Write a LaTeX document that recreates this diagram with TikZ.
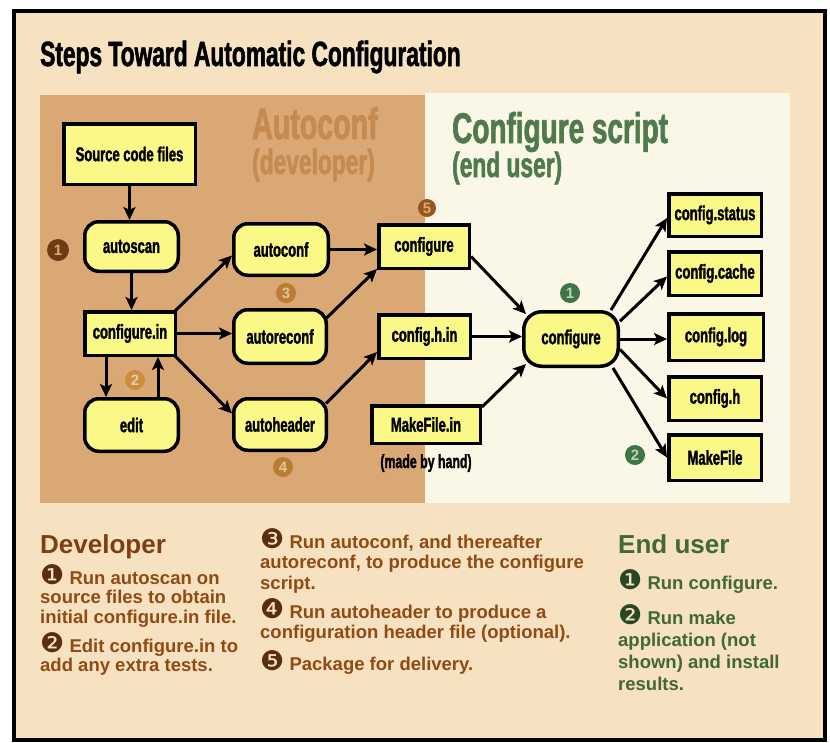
\documentclass[tikz,border=0pt]{standalone}
\usepackage{fontspec}
\setmainfont{Liberation Sans}
\newfontfamily\condf{Liberation Sans}[UprightFont={* Bold}, FakeStretch=0.65, FakeBold=1.5]
\newfontfamily\dingf{DejaVu Sans}
\usetikzlibrary{arrows.meta,calc}
\definecolor{pagebg}{RGB}{246,226,192}
\definecolor{tanbg}{RGB}{217,168,117}
\definecolor{creambg}{RGB}{250,247,230}
\definecolor{boxy}{RGB}{250,248,135}
\definecolor{autoc}{RGB}{196,138,80}
\definecolor{greenh}{RGB}{78,122,78}
\definecolor{devtext}{RGB}{145,74,20}
\definecolor{devhead}{RGB}{125,62,18}
\definecolor{devnum}{RGB}{90,45,14}
\definecolor{usertext}{RGB}{66,104,52}
\definecolor{usernum}{RGB}{40,72,36}
\definecolor{numA}{RGB}{110,60,20}
\definecolor{numB}{RGB}{205,140,62}
\definecolor{numC}{RGB}{188,124,52}
\definecolor{numE}{RGB}{150,86,30}
\definecolor{numG}{RGB}{62,116,72}
\begin{document}
\begin{tikzpicture}[x=1pt,y=-1pt,
  box/.style={draw, line width=3.5pt, fill=boxy, inner sep=0pt, align=center,
    font=\condf\fontsize{20}{20}\selectfont},
  rbox/.style={box, rounded corners=14pt},
  arr/.style={line width=3pt, -{Stealth[length=13pt,width=12pt,inset=3pt]}},
  num/.style={circle, inner sep=0pt, minimum size=20pt,
    font=\bfseries\fontsize{15}{15}\selectfont},
  heading/.style={anchor=base west, inner sep=0pt, font=\condf},
  para/.style={anchor=base west, inner sep=0pt, align=left}]
\useasboundingbox (0,0) rectangle (830,742);
\fill[white] (0,0) rectangle (830,742);
\fill[pagebg] (14,10) rectangle (825,740);
\fill[tanbg] (40,95) rectangle (425,503);
\fill[creambg] (425,93) rectangle (790,503);
\draw[line width=4pt] (14,10.5) rectangle (825,740);

% title and panel headings
\node[heading, font=\condf\fontsize{35}{35}\selectfont] (title) at (40,66) {Steps Toward Automatic Configuration};
\node[heading, text=autoc, font=\condf\fontsize{44}{44}\selectfont] (hauto) at (252,139) {Autoconf};
\node[heading, text=autoc, font=\condf\fontsize{35}{35}\selectfont] (hdev) at (252,174) {(developer)};
\node[heading, text=greenh, font=\condf\fontsize{43}{43}\selectfont] (hconf) at (452,143) {Configure script};
\node[heading, text=greenh, font=\condf\fontsize{35}{35}\selectfont] (huser) at (452,177) {(end user)};

% developer nodes
\node[box, minimum width=131.5pt, minimum height=60.5pt] (src) at (129.5,154) {Source code files};
\node[rbox, minimum width=93.5pt, minimum height=49.5pt] (autoscan) at (131.5,246.5) {autoscan};
\node[box, minimum width=90.5pt, minimum height=43.5pt] (confin) at (130,333.5) {configure.in};
\node[rbox, minimum width=93.5pt, minimum height=52.5pt] (edit) at (131.5,425) {edit};
\node[rbox, minimum width=94.5pt, minimum height=51.5pt] (autoconf) at (281,249.5) {autoconf};
\node[rbox, minimum width=92.5pt, minimum height=53.5pt] (autoreconf) at (280,336.5) {autoreconf};
\node[rbox, minimum width=92.5pt, minimum height=51.5pt] (autoheader) at (280,424.5) {autoheader};
\node[box, minimum width=90.5pt, minimum height=43.5pt] (conf) at (424,246.5) {configure};
\node[box, minimum width=91.5pt, minimum height=43.5pt] (confhin) at (424.5,336.5) {config.h.in};
\node[box, minimum width=108.5pt, minimum height=37.5pt] (mkin) at (426,424.5) {MakeFile.in};
\node[anchor=base, inner sep=0pt, font=\condf\fontsize{19}{19}\selectfont] (hand) at (426,468) {(made by hand)};

% end user nodes
\node[box, rounded corners=18pt, minimum width=94.5pt, minimum height=54.5pt] (cfg) at (571,339) {configure};
\node[box, minimum width=92.5pt, minimum height=42.5pt] (status) at (715,215) {config.status};
\node[box, minimum width=92.5pt, minimum height=43.5pt] (cache) at (715,273.5) {config.cache};
\node[box, minimum width=94.5pt, minimum height=46.5pt] (log) at (716,337) {config.log};
\node[box, minimum width=92.5pt, minimum height=43.5pt] (cfgh) at (715,398.5) {config.h};
\node[box, minimum width=92.5pt, minimum height=45.5pt] (mkf) at (715,457.5) {MakeFile};

% connectors
\draw[arr] (src.south) -- (src.south |- autoscan.north);
\draw[arr] (autoscan.south) -- (autoscan.south |- confin.north);
\draw[arr] ([xshift=-24pt]confin.south) -- ([xshift=-24pt]confin.south |- edit.north);
\draw[arr] ([xshift=28pt]confin.south |- edit.north) -- ([xshift=28pt]confin.south);
\draw[arr] ([xshift=-2pt,yshift=-1pt]confin.north east) -- ([yshift=-6pt]autoconf.west);
\draw[arr] (confin.east) -- (confin.east -| autoreconf.west);
\draw[arr] ([xshift=-2pt,yshift=1pt]confin.south east) -- ([yshift=11pt]autoheader.west);
\draw[arr] (autoconf.east) -- (autoconf.east -| conf.west);
\draw[arr] ([xshift=-2pt,yshift=18pt]autoreconf.east) -- ([yshift=1pt]conf.south west);
\draw[arr] ([xshift=-2pt,yshift=21pt]autoheader.east) -- ([yshift=8pt]confhin.south west);
\draw[arr] ([yshift=-10pt]conf.east) -- ([xshift=4pt,yshift=-4pt]cfg.north west);
\draw[arr] (confhin.east) -- (confhin.east -| cfg.west);
\draw[arr] ([yshift=-3pt]mkin.north east) -- ([xshift=4pt,yshift=4pt]cfg.south west);
\draw[arr] ([xshift=-9pt]cfg.north east) -- ([yshift=-3pt]status.west);
\draw[arr] (cfg.20) -- ([yshift=-3pt]cache.west);
\draw[arr] (cfg.east) -- (cfg.east -| log.west);
\draw[arr] (cfg.-12) -- (cfgh.west);
\draw[arr] ([xshift=-7pt]cfg.south east) -- (mkf.west);

% step markers
\node[num, fill=numA, text=tanbg, minimum size=22pt] (m1) at (58,250) {1};
\node[num, fill=numB, text=tanbg!60!white] (m2) at (135,380) {2};
\node[num, fill=numC, text=tanbg!70!white] (m3) at (286,293) {3};
\node[num, fill=numC, text=tanbg!70!white] (m4) at (283,467) {4};
\node[num, fill=numE, text=tanbg, minimum size=18pt] (m5) at (427,208) {5};
\node[num, fill=numG, text=creambg!70!numG] (g1) at (570,293) {1};
\node[num, fill=numG, text=creambg!70!numG] (g2) at (635,455) {2};

% explanations (anchor = baseline of the last line)
\newcommand{\dg}[2]{{\color{#1}\dingf\mdseries\fontsize{27}{20}\selectfont #2}}
\node[heading, text=devhead, font=\bfseries\fontsize{26}{26}\selectfont] (hdevb) at (40,553) {Developer};
\node[para, text=devtext, font=\bfseries\fontsize{18.5}{19.5}\selectfont] (d1) at (40,623)
  {\dg{devnum}{❶} Run autoscan on\\source files to obtain\\initial configure.in file.};
\node[para, text=devtext, font=\bfseries\fontsize{18.5}{19.5}\selectfont] (d2) at (40,671.5)
  {\dg{devnum}{❷} Edit configure.in to\\add any extra tests.};
\node[para, text=devtext, font=\bfseries\fontsize{18.5}{20.5}\selectfont] (d3) at (260,589)
  {\dg{devnum}{❸} Run autoconf, and thereafter\\autoreconf, to produce the configure\\script.};
\node[para, text=devtext, font=\bfseries\fontsize{18.5}{20.5}\selectfont] (d4) at (260,638.5)
  {\dg{devnum}{❹} Run autoheader to produce a\\configuration header file (optional).};
\node[para, text=devtext, font=\bfseries\fontsize{18.5}{20.5}\selectfont] (d5) at (260,670)
  {\dg{devnum}{❺} Package for delivery.};
\node[heading, text=usertext, font=\bfseries\fontsize{26}{26}\selectfont] (huserb) at (618,553) {End user};
\node[para, text=usertext, font=\bfseries\fontsize{18.5}{22}\selectfont] (u1) at (618,589)
  {\dg{usernum}{❶} Run configure.};
\node[para, text=usertext, font=\bfseries\fontsize{18.5}{22}\selectfont] (u2) at (618,690)
  {\dg{usernum}{❷} Run make\\application (not\\shown) and install\\results.};
\end{tikzpicture}
\end{document}
